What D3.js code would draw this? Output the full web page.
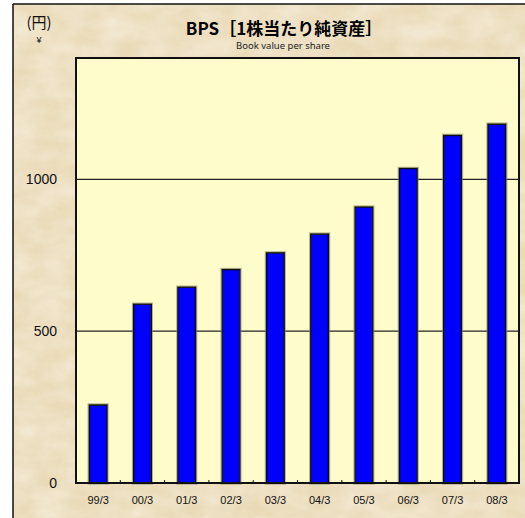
<!DOCTYPE html>
<html>
<head>
<meta charset="utf-8">
<script src="https://cdnjs.cloudflare.com/ajax/libs/d3/7.8.5/d3.min.js"></script>
<style>
  html, body { margin: 0; padding: 0; background: #fff; }
  svg { display: block; }
</style>
</head>
<body>
<div id="chart"></div>
<script>
// BPS bar chart, fiscal years ending March

var categories = ["99/3", "00/3", "01/3", "02/3", "03/3", "04/3", "05/3", "06/3", "07/3", "08/3"];
var bpsValues = [257, 589, 645, 703, 758, 820, 909, 1036, 1145, 1182];
var yTicks = [0, 500, 1000];
var yMax = 1400;

var width = 525,
    height = 518;

var plot = { left: 76, top: 58, right: 519, bottom: 483 };

var svg = d3.select("#chart").append("svg")
    .attr("width", width)
    .attr("height", height);

var defs = svg.append("defs");

// parchment texture
var paper = defs.append("filter")
    .attr("id", "paper")
    .attr("x", 0).attr("y", 0).attr("width", "100%").attr("height", "100%");
paper.append("feTurbulence")
    .attr("type", "fractalNoise")
    .attr("baseFrequency", "0.03 0.05")
    .attr("numOctaves", 4)
    .attr("seed", 3)
    .attr("result", "noise");
paper.append("feColorMatrix")
    .attr("in", "noise")
    .attr("type", "matrix")
    .attr("values", "0 0 0 0 0.97  0 0 0 0 0.93  0 0 0 0 0.84  0.8 0 0 0 -0.2")
    .attr("result", "spots");
paper.append("feComposite")
    .attr("in", "spots")
    .attr("in2", "SourceGraphic")
    .attr("operator", "in");

var shadow = defs.append("filter")
    .attr("id", "barshadow")
    .attr("x", "-30%").attr("y", "-10%").attr("width", "160%").attr("height", "120%");
shadow.append("feMorphology")
    .attr("in", "SourceAlpha").attr("operator", "dilate").attr("radius", 1).attr("result", "d");
shadow.append("feFlood").attr("flood-color", "#8a8a60").attr("flood-opacity", 0.6);
shadow.append("feComposite").attr("in2", "d").attr("operator", "in").attr("result", "s");
var merge = shadow.append("feMerge");
merge.append("feMergeNode").attr("in", "s");
merge.append("feMergeNode").attr("in", "SourceGraphic");

// outer frame with paper fill
svg.append("rect")
    .attr("x", 13).attr("y", 4)
    .attr("width", width).attr("height", height)
    .attr("fill", "#eadab8");
svg.append("rect")
    .attr("x", 13).attr("y", 4)
    .attr("width", width).attr("height", height)
    .attr("fill", "#eadab8")
    .attr("filter", "url(#paper)");
svg.append("line")
    .attr("x1", 13).attr("x2", 13).attr("y1", 4).attr("y2", height)
    .attr("stroke", "#111").attr("stroke-width", 1.5);
svg.append("line")
    .attr("x1", 13).attr("x2", width).attr("y1", 4).attr("y2", 4)
    .attr("stroke", "#111").attr("stroke-width", 1.5);

var xScale = d3.scaleBand()
    .domain(categories)
    .range([plot.left, plot.right])
    .paddingInner(0.6)
    .paddingOuter(0.3);

var yScale = d3.scaleLinear()
    .domain([0, yMax])
    .range([plot.bottom, plot.top]);

// plot area
svg.append("rect")
    .attr("x", plot.left).attr("y", plot.top)
    .attr("width", plot.right - plot.left)
    .attr("height", plot.bottom - plot.top)
    .attr("fill", "#fffccc");

// gridlines
svg.append("g")
    .selectAll("line")
    .data(yTicks.filter(function(d){ return d > 0; }))
  .enter().append("line")
    .attr("x1", plot.left).attr("x2", plot.right)
    .attr("y1", function(d){ return yScale(d); })
    .attr("y2", function(d){ return yScale(d); })
    .attr("stroke", "#222").attr("stroke-width", 1.2);

// bars
svg.append("g")
    .selectAll("rect")
    .data(bpsValues)
  .enter().append("rect")
    .attr("x", function(d, i){ return xScale(categories[i]); })
    .attr("y", function(d){ return yScale(d); })
    .attr("width", xScale.bandwidth())
    .attr("height", function(d){ return plot.bottom - yScale(d); })
    .attr("fill", "#0000ff")
    .attr("stroke", "#111")
    .attr("stroke-width", 1.5)
    .attr("filter", "url(#barshadow)");

// plot border
svg.append("rect")
    .attr("x", plot.left).attr("y", plot.top)
    .attr("width", plot.right - plot.left)
    .attr("height", plot.bottom - plot.top)
    .attr("fill", "none")
    .attr("stroke", "#111").attr("stroke-width", 2);

// x tick marks between categories (inside)
var step = xScale.step();
svg.append("g")
    .selectAll("line")
    .data(categories.slice(1))
  .enter().append("line")
    .attr("x1", function(d){ return xScale(d) - step * 0.3 ; })
    .attr("x2", function(d){ return xScale(d) - step * 0.3; })
    .attr("y1", plot.bottom - 3).attr("y2", plot.bottom)
    .attr("stroke", "#111").attr("stroke-width", 1);

// x axis labels
var xAxis = d3.axisBottom(xScale).tickSize(0).tickPadding(13);
var gx = svg.append("g")
    .attr("transform", "translate(0," + plot.bottom + ")")
    .call(xAxis);
gx.select(".domain").remove();
gx.selectAll("text")
    .attr("font-family", "'Liberation Sans', Arial, sans-serif")
    .attr("font-size", 11)
    .attr("fill", "#111");

// y axis labels
var yAxis = d3.axisLeft(yScale).tickValues(yTicks).tickFormat(d3.format("d")).tickSize(0).tickPadding(19);
var gy = svg.append("g")
    .attr("transform", "translate(" + plot.left + ",0)")
    .call(yAxis);
gy.select(".domain").remove();
gy.selectAll("text")
    .attr("font-family", "'Liberation Sans', Arial, sans-serif")
    .attr("font-size", 14)
    .attr("fill", "#111");

// titles
svg.append("text")
    .attr("x", 284).attr("y", 35)
    .attr("text-anchor", "middle")
    .attr("font-family", "'Noto Sans CJK JP', sans-serif")
    .attr("font-weight", "bold")
    .attr("font-size", 17)
    .attr("fill", "#000")
    .text("BPS［1株当たり純資産］");

svg.append("text")
    .attr("x", 283).attr("y", 49)
    .attr("text-anchor", "middle")
    .attr("font-family", "'Noto Sans', sans-serif")
    .attr("font-size", 9.5)
    .attr("fill", "#222")
    .text("Book value per share");

svg.append("text")
    .attr("x", 39).attr("y", 28)
    .attr("text-anchor", "middle")
    .attr("font-family", "'Noto Sans CJK JP', sans-serif")
    .attr("font-size", 15)
    .attr("fill", "#111")
    .text("(円)");

svg.append("text")
    .attr("x", 39).attr("y", 43)
    .attr("text-anchor", "middle")
    .attr("font-family", "'Liberation Sans', Arial, sans-serif")
    .attr("font-size", 9)
    .attr("fill", "#111")
    .text("¥");
</script>
</body>
</html>
